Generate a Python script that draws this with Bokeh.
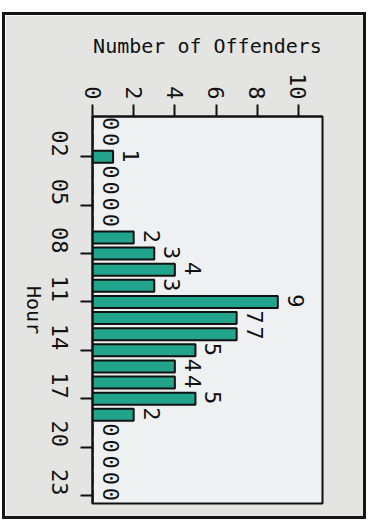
import math
from bokeh.plotting import figure
from bokeh.models import ColumnDataSource, Range1d, FixedTicker, LinearAxis
from bokeh.embed import file_html
from bokeh.resources import INLINE

# ---- data ----
hours = list(range(24))
offenders = [0, 0, 1, 0, 0, 0, 0, 2, 3, 4, 3, 9, 7, 7, 5, 4, 4, 5, 2, 0, 0, 0, 0, 0]
hour_ticks = [2, 5, 8, 11, 14, 17, 20, 23]
hour_tick_labels = ["02", "05", "08", "11", "14", "17", "20", "23"]
count_ticks = [0, 2, 4, 6, 8, 10]
hour_title = "Hour"
hour_title_pos = 13.0   # rotated label ends at this position on the hour axis

FONT = "DejaVu Sans Mono"
BAR = "#22a38b"
INK = "#111111"

src = ColumnDataSource(dict(hour=hours, count=offenders,
                            label=[str(v) for v in offenders]))

p = figure(width=358, height=501, output_backend="svg", toolbar_location=None,
           x_range=Range1d(0, 11.17), y_range=Range1d(23.5, -0.5),
           x_axis_location="above",
           min_border_left=87, min_border_right=41,
           min_border_top=101, min_border_bottom=13)

p.background_fill_color = "#eef0f2"
p.border_fill_color = "#e4e4e2"
p.outline_line_color = INK
p.outline_line_width = 2
p.xgrid.grid_line_color = None
p.ygrid.grid_line_color = None
p.styles = {"margin-left": "5px", "margin-top": "15px",
            "outline": "3px solid #151515", "outline-offset": "0px"}

p.hbar(y="hour", left=0, right="count", height=0.75, source=src,
       fill_color=BAR, line_color=INK, line_width=2)

p.text(x="count", y="hour", text="label", source=src,
       angle=-math.pi / 2, x_offset=10, y_offset=-1,
       text_align="center", text_baseline="bottom",
       text_font={"value": FONT}, text_font_size="22px", text_color=INK)

xa = p.xaxis[0]
xa.ticker = FixedTicker(ticks=count_ticks)
xa.axis_label = "Number of Offenders"
xa.axis_label_text_font = FONT
xa.axis_label_text_font_style = "normal"
xa.axis_label_text_font_size = "20px"
xa.axis_label_text_color = INK
xa.axis_label_standoff = 12
xa.major_label_orientation = -math.pi / 2
xa.major_label_text_font = FONT
xa.major_label_text_font_size = "22px"
xa.major_label_text_color = INK
xa.major_label_standoff = 5
xa.major_tick_in = 0
xa.major_tick_out = 12
xa.major_tick_line_width = 2
xa.major_tick_line_color = INK
xa.minor_tick_line_color = None
xa.axis_line_color = INK
xa.axis_line_width = 2

ya = p.yaxis[0]
ya.ticker = FixedTicker(ticks=hour_ticks)
ya.major_label_overrides = {t: l for t, l in zip(hour_ticks, hour_tick_labels)}
ya.major_label_orientation = -math.pi / 2
ya.major_label_text_font = FONT
ya.major_label_text_font_size = "22px"
ya.major_label_text_color = INK
ya.major_label_standoff = 21
ya.major_tick_in = 0
ya.major_tick_out = 12
ya.major_tick_line_width = 2
ya.major_tick_line_color = INK
ya.minor_tick_line_color = None
ya.axis_line_color = INK
ya.axis_line_width = 2

# axis title "Hour" reading top-to-bottom: a second left axis carrying it
title_axis = LinearAxis(ticker=FixedTicker(ticks=[hour_title_pos]),
                        major_label_overrides={hour_title_pos: hour_title})
title_axis.major_label_orientation = -math.pi / 2
title_axis.major_label_text_font = FONT
title_axis.major_label_text_font_size = "20px"
title_axis.major_label_text_color = INK
title_axis.major_label_standoff = 7
title_axis.major_tick_in = 0
title_axis.major_tick_out = 0
title_axis.major_tick_line_color = None
title_axis.minor_tick_line_color = None
title_axis.axis_line_color = None
p.add_layout(title_axis, "left")

open("out.html", "w").write(file_html(p, INLINE))
